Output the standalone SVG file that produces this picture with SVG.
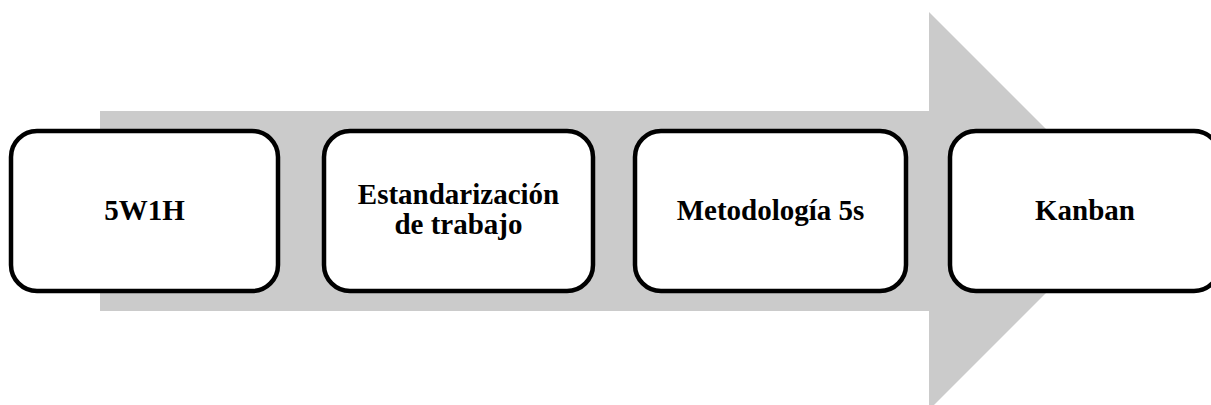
<svg xmlns="http://www.w3.org/2000/svg" width="1211" height="405" viewBox="0 0 1211 405">
<style>
.box{fill:#fff;stroke:#000;stroke-width:4.5}
.lbl{font-family:'Liberation Serif',serif;font-weight:bold;font-size:29px;text-anchor:middle;fill:#000}
</style>
<rect width="1211" height="405" fill="#fff"/>
<g id="connectors">
<polygon points="100,111 929,111 929,12 1128,211 929,410 929,311 100,311" fill="#cbcbcb"/>
</g>
<g id="node1">
<rect class="box" x="11" y="131" width="267" height="160" rx="26"/>
<text class="lbl" x="144.5" y="220">5W1H</text>
</g>
<g id="node2">
<rect class="box" x="324" y="131" width="269" height="160" rx="26"/>
<text class="lbl" x="458.5" y="204">Estandarización</text>
<text class="lbl" x="458.5" y="234">de trabajo</text>
</g>
<g id="node3">
<rect class="box" x="635" y="131" width="271" height="160" rx="26"/>
<text class="lbl" x="770.5" y="220">Metodología 5s</text>
</g>
<g id="node4">
<rect class="box" x="950" y="131" width="270" height="160" rx="26"/>
<text class="lbl" x="1085" y="220">Kanban</text>
</g>
</svg>
